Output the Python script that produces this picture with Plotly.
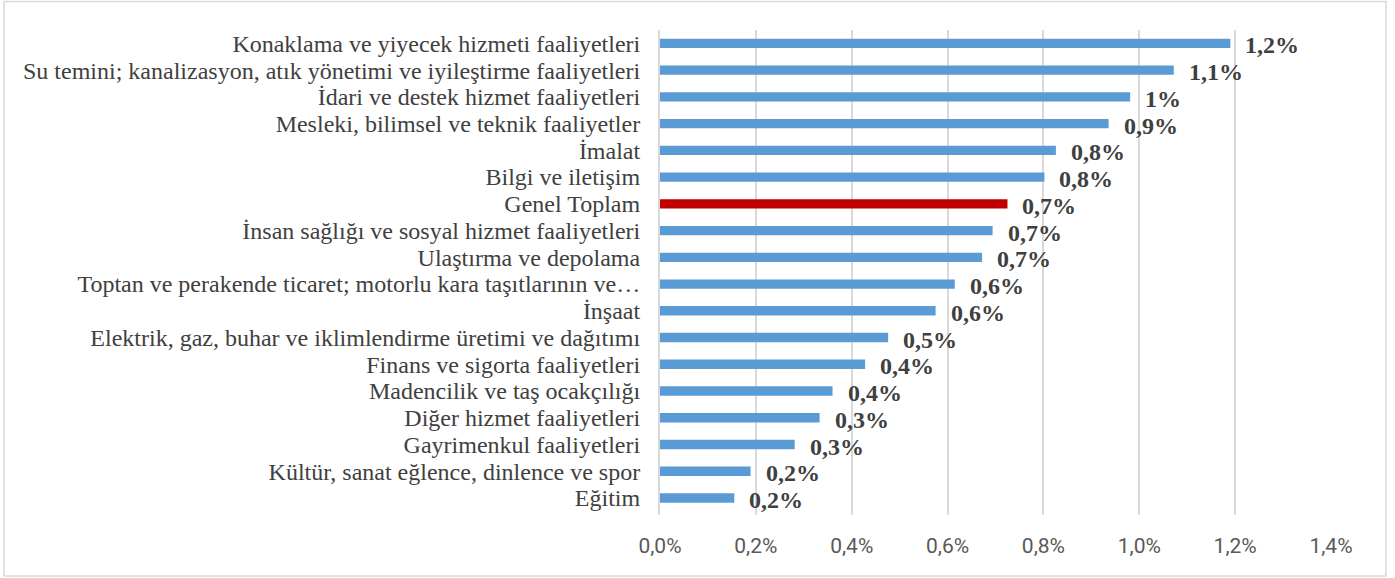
import plotly.graph_objects as go

categories = [
    "Konaklama ve yiyecek hizmeti faaliyetleri",
    "Su temini; kanalizasyon, atık yönetimi ve iyileştirme faaliyetleri",
    "İdari ve destek hizmet faaliyetleri",
    "Mesleki, bilimsel ve teknik faaliyetler",
    "İmalat",
    "Bilgi ve iletişim",
    "Genel Toplam",
    "İnsan sağlığı ve sosyal hizmet faaliyetleri",
    "Ulaştırma ve depolama",
    "Toptan ve perakende ticaret; motorlu kara taşıtlarının ve…",
    "İnşaat",
    "Elektrik, gaz, buhar ve iklimlendirme üretimi ve dağıtımı",
    "Finans ve sigorta faaliyetleri",
    "Madencilik ve taş ocakçılığı",
    "Diğer hizmet faaliyetleri",
    "Gayrimenkul faaliyetleri",
    "Kültür, sanat eğlence, dinlence ve spor",
    "Eğitim",
]
values = [1.190, 1.072, 0.981, 0.936, 0.826, 0.802, 0.725, 0.694, 0.672,
          0.615, 0.575, 0.476, 0.428, 0.360, 0.333, 0.281, 0.189, 0.155]
value_labels = ["1,2%", "1,1%", "1%", "0,9%", "0,8%", "0,8%", "0,7%", "0,7%", "0,7%",
                "0,6%", "0,6%", "0,5%", "0,4%", "0,4%", "0,3%", "0,3%", "0,2%", "0,2%"]
tick_vals = [0, 0.2, 0.4, 0.6, 0.8, 1.0, 1.2, 1.4]
tick_text = ["0,0%", "0,2%", "0,4%", "0,6%", "0,8%", "1,0%", "1,2%", "1,4%"]
highlight = "Genel Toplam"

colors = ["#C00000" if c == highlight else "#5B9BD5" for c in categories]

SERIF = "Liberation Serif, Times New Roman, serif"

fig = go.Figure()
fig.add_trace(go.Bar(
    x=values, y=categories, orientation="h",
    marker=dict(color=colors, line=dict(width=0)),
    width=0.35, hoverinfo="skip",
))

for c, v, t in zip(categories, values, value_labels):
    fig.add_annotation(x=v, y=c, text="<b>%s</b>" % t, showarrow=False, xanchor="left",
                       xshift=13, yshift=-2,
                       font=dict(family=SERIF, size=24, color="#404040"))

L, R, T, B = 660, 1331, 30, 515
W, H = 1395, 578
pw, ph = R - L, B - T
fig.add_shape(type="rect", xref="paper", yref="paper",
              x0=(4 - L) / pw, x1=(1386 - L) / pw,
              y0=(B - 576) / ph, y1=(B - 1.5) / ph,
              line=dict(color="#D9D9D9", width=1.5), layer="below")

fig.update_layout(
    width=W, height=H,
    margin=dict(l=L, r=W - R, t=T, b=H - B),
    paper_bgcolor="white", plot_bgcolor="white",
    showlegend=False,
    xaxis=dict(range=[0, 1.4], tickvals=tick_vals, ticktext=tick_text,
               showgrid=True, gridcolor="#D9D9D9", gridwidth=2,
               zeroline=False, showline=False, ticks="",
               tickfont=dict(family="Liberation Sans Narrow, Roboto, sans-serif",
                             size=21, color="#595959"),
               ticklabelstandoff=16, fixedrange=True),
    yaxis=dict(categoryorder="array", categoryarray=categories[::-1],
               tickmode="array", tickvals=categories, ticktext=categories,
               showline=True, linecolor="#D9D9D9", linewidth=2,
               showgrid=False, ticks="", ticklabelstandoff=13,
               tickfont=dict(family=SERIF, size=24, color="#404040"),
               fixedrange=True),
)

fig.write_html("out.html", post_script="document.body.style.margin='0';",
               config={"displayModeBar": False})
